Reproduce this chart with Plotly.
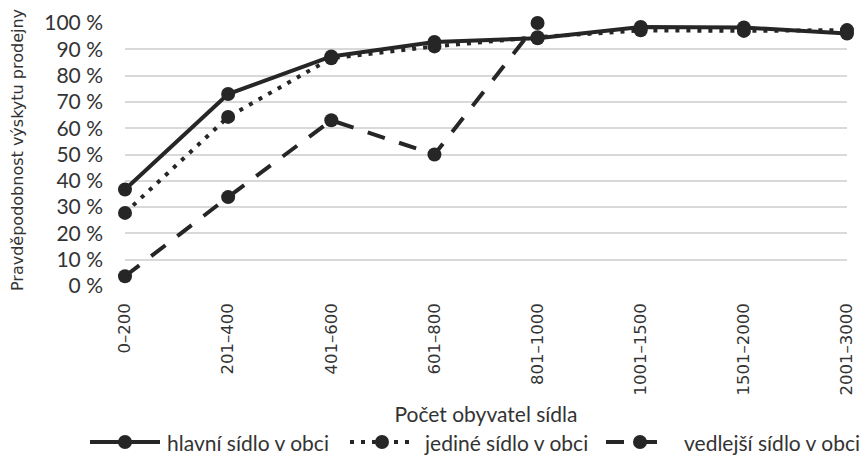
import plotly.graph_objects as go

categories = ["0–200", "201–400", "401–600", "601–800", "801–1000", "1001–1500", "1501–2000", "2001–3000"]
hlavni = [36.7, 73.0, 87.3, 92.8, 94.2, 98.5, 98.3, 96.0]
jedine = [27.8, 64.3, 86.6, 91.1, 94.6, 97.2, 97.0, 97.3]
vedlejsi = [3.7, 33.8, 63.0, 50.0, 100.0]
series_names = ["hlavní sídlo v obci", "jediné sídlo v obci", "vedlejší sídlo v obci"]
y_ticks = list(range(0, 101, 10))
y_tick_labels = [f"{v} %" for v in y_ticks]
x_title = "Počet obyvatel sídla"
y_title = "Pravděpodobnost výskytu prodejny"

color = "#262626"
text_color = "#333333"
dashes = ["solid", "4px,7px", "18px,15px"]
series_values = [hlavni, jedine, vedlejsi]

W, H = 863, 456
ML, MR, MT, MB = 125, 16, 23, 170
PW, PH = W - ML - MR, H - MT - MB

fig = go.Figure()
for name, vals, dash in zip(series_names, series_values, dashes):
    fig.add_trace(go.Scatter(x=categories[:len(vals)], y=vals, name=name, mode="lines+markers",
                             line=dict(color=color, width=4, dash=dash),
                             marker=dict(size=14, color=color), cliponaxis=False, showlegend=False))

def px_x(px):
    return (px - ML) / PW

def px_y(py):
    return (H - MB - py) / PH

# custom legend (symbols longer than plotly's built-in legend allows)
legend_y = 442
legend_items = [  # (line start, line end, marker, text start) in pixels
    (90, 160, 125, 165),
    (350, 412, 382, 422),
    (606, 664, 640, 682),
]
shapes = []
annotations = []
for (x0, x1, xm, xt), name, dash in zip(legend_items, series_names, dashes):
    shapes.append(dict(type="line", xref="paper", yref="paper", x0=px_x(x0), x1=px_x(x1),
                       y0=px_y(legend_y), y1=px_y(legend_y), line=dict(color=color, width=4, dash=dash)))
    shapes.append(dict(type="circle", xref="paper", yref="paper", xsizemode="pixel", ysizemode="pixel",
                       xanchor=px_x(xm), yanchor=px_y(legend_y), x0=-7, x1=7, y0=-7, y1=7,
                       fillcolor=color, line=dict(color=color, width=0)))
    annotations.append(dict(text=name, xref="paper", yref="paper", x=px_x(xt), y=px_y(legend_y),
                            xanchor="left", yanchor="middle", showarrow=False,
                            font=dict(family="Lato", size=21, color=text_color)))

annotations.append(dict(text=y_title, xref="paper", yref="paper", x=px_x(17), y=px_y(150),
                        xanchor="center", yanchor="middle", textangle=-90, showarrow=False,
                        font=dict(family="DejaVu Sans", size=16, color=text_color)))

fig.update_layout(
    width=W, height=H,
    margin=dict(l=ML, r=MR, t=MT, b=MB, autoexpand=False),
    paper_bgcolor="white", plot_bgcolor="white",
    font=dict(family="Lato", size=20, color=text_color),
    showlegend=False,
    shapes=shapes, annotations=annotations,
    xaxis=dict(type="category", range=[0, 7], showgrid=False, showline=False, zeroline=False,
               tickangle=-90, ticklabelstandoff=13,
               tickfont=dict(family="DejaVu Sans", size=16.5, color=text_color),
               title=dict(text=x_title, standoff=12,
                          font=dict(family="Lato", size=21, color=text_color))),
    yaxis=dict(range=[0, 100], tickmode="array", tickvals=y_ticks, ticktext=y_tick_labels,
               showgrid=True, gridcolor="#d9d9d9",
               gridwidth=1.5, zeroline=False, showline=False, ticklabelstandoff=21,
               tickfont=dict(family="Lato", size=21, color=text_color)),
)

fig.write_html("out.html", config={"displayModeBar": False},
               post_script="document.body.style.margin='0';")
